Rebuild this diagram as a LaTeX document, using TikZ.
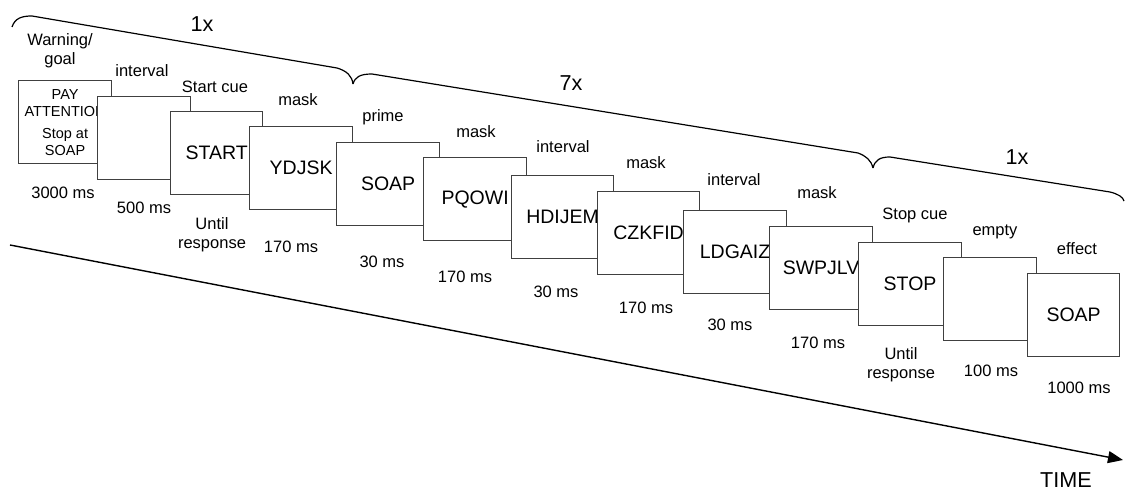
\documentclass[tikz,border=0pt]{standalone}
\usepackage{fontspec}
\setmainfont{Liberation Sans}
\usetikzlibrary{arrows.meta}

\begin{document}
\begin{tikzpicture}[
    x=0.5pt,
    y=-0.5pt,
    >={Triangle[length=7.5pt,width=6pt]},
    screen/.style={draw=black!75,fill=white,line width=0.6pt,inner sep=0pt,
        minimum height=41.5pt,anchor=north west,align=center,
        font=\fontsize{9.75}{11}\selectfont},
    lbl/.style={align=center,font=\fontsize{8.25}{9.5}\selectfont},
    rep/.style={font=\fontsize{10.8}{12}\selectfont},
    brace/.style={line width=0.6pt}
]
    \useasboundingbox (0,0) rectangle (1125,491);

    % Time axis
    \coordinate (t0) at (10,245);
    \coordinate (t1) at (1123,460);
    \draw[line width=0.7pt,->] (t0) -- (t1);
    \node[rep] (time) at (1066,480) {TIME};

    % Screens
    \node[screen,minimum width=46.5pt,font=\fontsize{7.25}{8.5}\selectfont] (b1) at (18,80)
        {PAY\\ATTENTION\\[2.5pt]Stop at\\SOAP};
    \foreach \i/\x/\y/\w/\word in {2/97/96/93/{},3/170/111/92/START,
        4/249/126/103/YDJSK,5/336/142/103/SOAP,6/423/157/103/PQOWI,
        7/511/175/102/HDIJEM,8/597/191/102/CZKFID,9/683/210/103/LDGAIZ,
        10/769/226/103/SWPJLV,11/858/242/103/STOP,12/943/257/93/{},
        13/1027/273/92/SOAP}{
        \node[screen,minimum width=\w*0.5pt] (b\i) at (\x,\y) {\word};
    }

    % Labels above
    \foreach \i/\x/\y/\txt in {1/60/51/{Warning/\\goal},2/142/71/interval,
        3/215/87/Start cue,4/298/100/mask,5/383/117/prime,6/476/132/mask,
        7/563/147/interval,8/646/163/mask,9/734/180/interval,10/817/193/mask,
        11/915/215/Stop cue,12/995/232/empty,13/1077/249/effect}{
        \node[lbl] (top\i) at (\x,\y) {\txt};
    }

    % Durations
    \foreach \i/\x/\y/\txt in {1/63/193/3000 ms,2/144/208/500 ms,
        3/212/235/{Until\\response},4/291/247/170 ms,5/382/262/30 ms,
        6/465/277/170 ms,7/556/292/30 ms,8/646/308/170 ms,9/730/325/30 ms,
        10/818/343/170 ms,11/901/365/{Until\\response},12/991/371/100 ms,
        13/1079/388/1000 ms}{
        \node[lbl] (dur\i) at (\x,\y) {\txt};
    }

    % Braces
    \coordinate (bl) at (12,27);
    \coordinate (c1) at (353,84);
    \coordinate (c2) at (873,168);
    \coordinate (br) at (1124,201);
    \draw[brace] (bl) .. controls (15,18) and (22,16) .. (32,16)
        -- (337,68) .. controls (347,71) and (352,76) .. (c1);
    \draw[brace] (c1) .. controls (355,77) and (360,74) .. (372,74)
        -- (858,153) .. controls (866,156) and (871,160) .. (c2);
    \draw[brace] (c2) .. controls (875,160) and (880,157) .. (890,157)
        -- (1110,192) .. controls (1118,194) and (1123,197) .. (br);
    \node[rep] (n1) at (202,24) {1x};
    \node[rep] (n7) at (571,83) {7x};
    \node[rep] (n1b) at (1017,157) {1x};
\end{tikzpicture}
\end{document}
